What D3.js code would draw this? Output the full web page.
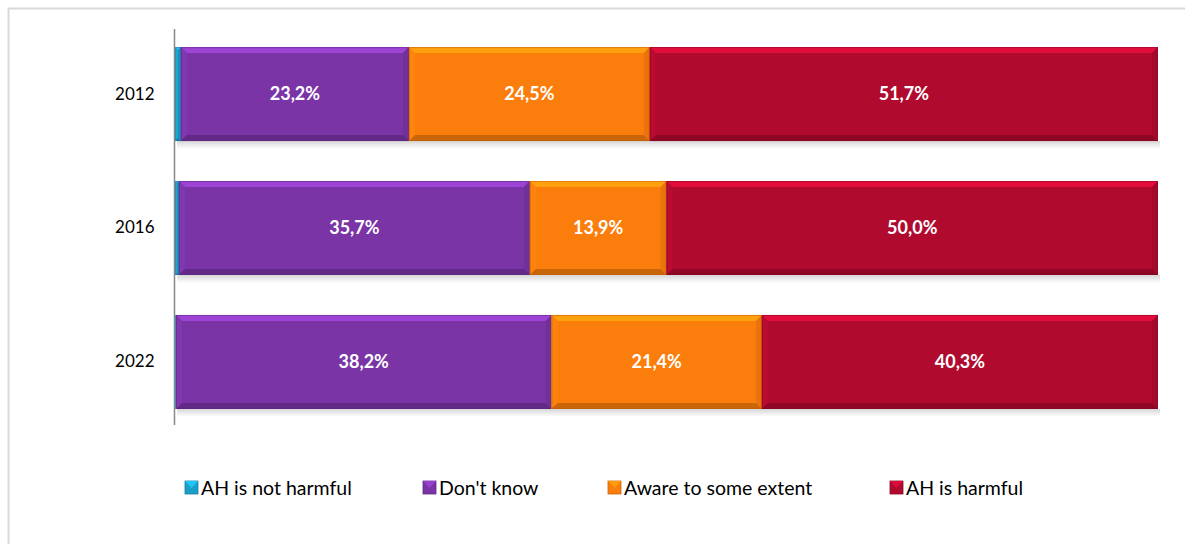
<!DOCTYPE html>
<html>
<head>
<meta charset="utf-8">
<script src="https://cdn.jsdelivr.net/npm/d3@7"></script>
<style>
  body { margin: 0; background: #fff; }
  svg { display: block; font-family: Lato, "Open Sans", sans-serif; }
</style>
</head>
<body>
<div id="main"></div>
<script>
const years = ["2012", "2016", "2022"];
const series = ["AH is not harmful", "Don't know", "Aware to some extent", "AH is harmful"];
const notHarmful = [0.6, 0.4, 0.1];
const dontKnow = [23.2, 35.7, 38.2];
const aware = [24.5, 13.9, 21.4];
const harmful = [51.7, 50.0, 40.3];
const colors = ["#1b9fc9", "#7a34a6", "#fb7d0c", "#b00a2e"];

const W = 1185, H = 544;
const svg = d3.select("#main").append("svg").attr("width", W).attr("height", H);

// frame
svg.append("rect").attr("x", 8.5).attr("y", 8.5).attr("width", W).attr("height", H)
  .attr("fill", "none").attr("stroke", "#d9d9d9").attr("stroke-width", 2);

const x = d3.scaleLinear().domain([0, 100]).range([175, 1158]);
const y = d3.scaleBand().domain(years).range([27, 429]).paddingInner(0.2985).paddingOuter(0.15);

const rows = years.map((yr, i) => ({ year: yr, values: [notHarmful[i], dontKnow[i], aware[i], harmful[i]] }));
const stack = d3.stack().keys(d3.range(4)).value((d, k) => d.values[k]);
const layers = stack(rows);

const defs = svg.append("defs");
const sh = defs.append("linearGradient").attr("id", "shadow").attr("x1", 0).attr("y1", 0).attr("x2", 0).attr("y2", 1);
sh.append("stop").attr("offset", 0).attr("stop-color", "#000").attr("stop-opacity", 0.16);
sh.append("stop").attr("offset", 1).attr("stop-color", "#000").attr("stop-opacity", 0);

// shadows below bars
svg.append("g").selectAll("rect").data(years).join("rect")
  .attr("x", x(0) + 2).attr("width", x(100) - x(0))
  .attr("y", d => y(d) + y.bandwidth()).attr("height", 8)
  .attr("fill", "url(#shadow)");

const bevel = 6;
const g = svg.append("g");
layers.forEach((layer, k) => {
  const col = d3.color(colors[k]);
  layer.forEach((d, i) => {
    const x0 = x(d[0]), x1 = x(d[1]);
    const y0 = y(years[i]), y1 = y0 + y.bandwidth();
    const w = x1 - x0;
    if (w <= 0.5) return;
    const b = Math.min(bevel, w / 2);
    const seg = g.append("g");
    seg.append("rect").attr("x", x0).attr("y", y0).attr("width", w).attr("height", y1 - y0).attr("fill", col);
    // top bevel
    seg.append("polygon").attr("points", [[x0, y0], [x1, y0], [x1 - b, y0 + b], [x0 + b, y0 + b]].join(" "))
      .attr("fill", col.brighter(0.7));
    // left bevel
    seg.append("polygon").attr("points", [[x0, y0], [x0 + b, y0 + b], [x0 + b, y1 - b], [x0, y1]].join(" "))
      .attr("fill", col.brighter(0.15));
    // right bevel
    seg.append("polygon").attr("points", [[x1, y0], [x1, y1], [x1 - b, y1 - b], [x1 - b, y0 + b]].join(" "))
      .attr("fill", col.darker(0.2));
    // bottom bevel
    seg.append("polygon").attr("points", [[x0, y1], [x0 + b, y1 - b], [x1 - b, y1 - b], [x1, y1]].join(" "))
      .attr("fill", col.darker(0.6));
    seg.append("rect").attr("x", x0 + 0.5).attr("y", y0 + 0.5).attr("width", w - 1).attr("height", y1 - y0 - 1)
      .attr("fill", "none").attr("stroke", col.darker(0.8)).attr("stroke-width", 1).attr("stroke-opacity", 0.5);
    if (k > 0) {
      g.append("text").attr("x", (x0 + x1) / 2).attr("y", (y0 + y1) / 2)
        .attr("text-anchor", "middle").attr("dy", "0.35em")
        .attr("fill", "#fff").attr("font-weight", "bold").attr("font-size", 18)
        .text(d3.format(".1f")(d.data.values[k]).replace(".", ",") + "%");
    }
  });
});

// axis
const yAxis = d3.axisLeft(y).tickSize(0).tickPadding(20);
svg.append("g").attr("transform", `translate(${x(0) - 0.5},0)`).call(yAxis)
  .call(a => a.select(".domain").attr("stroke", "#888").attr("stroke-width", 1.5).attr("d", "M0,29V425"))
  .call(a => a.selectAll("text").attr("font-size", 17).attr("fill", "#000").attr("font-family", "Lato, 'Open Sans', sans-serif"));

// legend
const legX = [185, 423, 608, 890];
const leg = svg.append("g").selectAll("g").data(series).join("g")
  .attr("transform", (d, i) => `translate(${legX[i]},481)`);
leg.each(function (d, i) {
  const c = d3.color(colors[i]);
  const s = d3.select(this);
  s.append("rect").attr("width", 13).attr("height", 13).attr("fill", c).attr("stroke", c.darker(0.6)).attr("stroke-width", 0.8);
  s.append("polygon").attr("points", "0,0 13,0 6.5,7").attr("fill", c.brighter(0.6));
  s.append("text").attr("x", 16).attr("y", 7).attr("dy", "0.35em").attr("font-size", 19.5).attr("fill", "#000").text(d);
});
</script>
</body>
</html>
